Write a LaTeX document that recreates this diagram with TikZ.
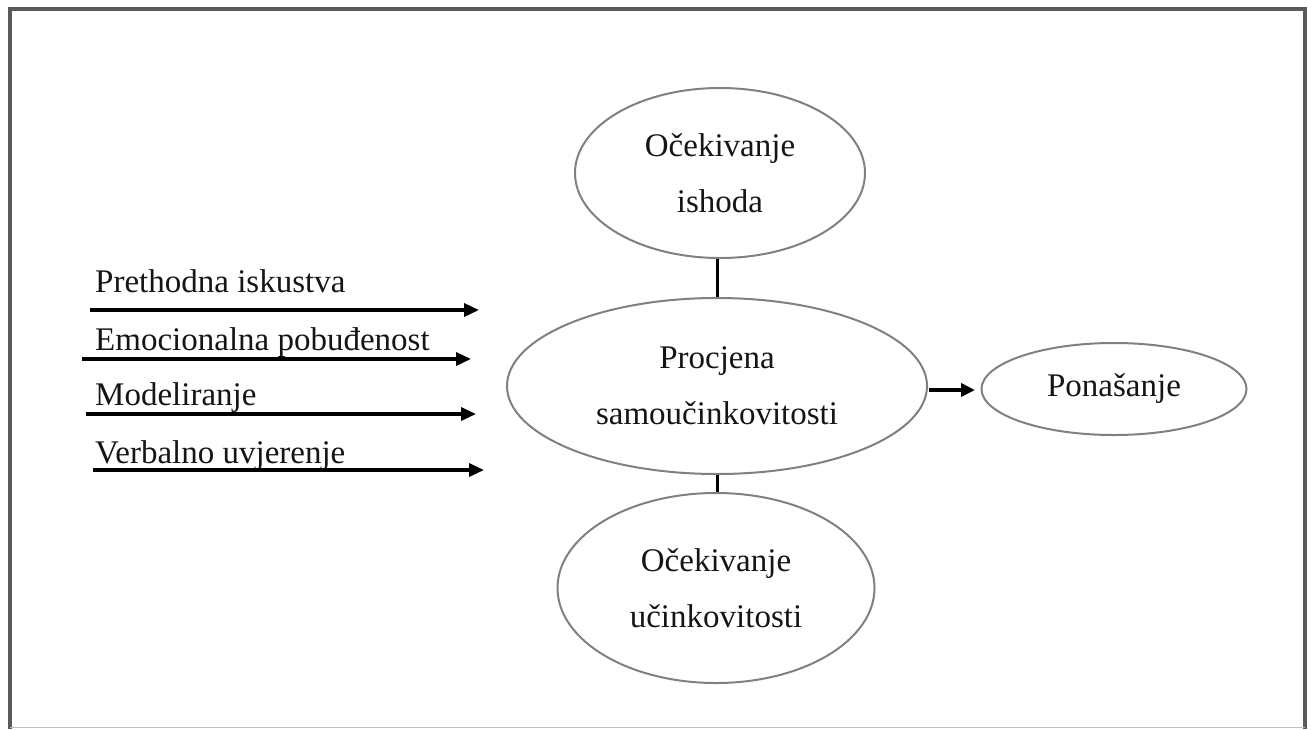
\documentclass[tikz,border=0pt]{standalone}
\usepackage{fontspec}
\setmainfont{Liberation Serif}
\usetikzlibrary{arrows.meta,shapes.geometric}
\definecolor{framegray}{HTML}{5A5A5A}
\definecolor{ellgray}{HTML}{808080}
\definecolor{txt}{HTML}{151515}
\begin{document}
\begin{tikzpicture}[x=1pt,y=-1pt,
  oval/.style={ellipse,draw=ellgray,line width=2pt,inner sep=0pt,align=center,
    font=\fontsize{33}{56}\selectfont,text=txt},
  lbl/.style={anchor=base west,inner sep=0pt,font=\fontsize{33}{38}\selectfont,text=txt},
  inarrow/.style={line width=3.5pt,-{Triangle[length=15pt,width=13pt]}},
  link/.style={line width=3pt}]
\useasboundingbox (0,0) rectangle (1311,729);
% frame
\draw[framegray,line width=4pt] (10,729) -- (10,9) -- (1305,9) -- (1305,729);
\draw[black!25,line width=1.5pt] (10,727.5) -- (1305,727.5);
% ellipses
\node[oval,minimum width=290pt,minimum height=170pt] (top) at (720,173) {Očekivanje\\ishoda};
\node[oval,minimum width=420pt,minimum height=176pt] (mid) at (717,386) {Procjena\\samoučinkovitosti};
\node[oval,minimum width=317pt,minimum height=190pt] (bot) at (716,588) {Očekivanje\\učinkovitosti};
\node[oval,minimum width=265pt,minimum height=92pt] (pon) at (1114,389) {Ponašanje};
% vertical links
\draw[link] (mid.north) -- (mid.north |- top.south);
\draw[link] (mid.south) -- (mid.south |- bot.north);
% arrow to behaviour
\coordinate (ps) at (929,390);
\coordinate (pe) at (975,390);
\draw[line width=3.5pt,-{Triangle[length=14pt,width=13pt]}] (ps) -- (pe);
% left labels
\node[lbl] (l1) at (95,292) {Prethodna iskustva};
\node[lbl] (l2) at (95,350) {Emocionalna pobuđenost};
\node[lbl] (l3) at (95,405) {Modeliranje};
\node[lbl] (l4) at (95,463) {Verbalno uvjerenje};
% left arrows
\coordinate (a1s) at (90,310);  \coordinate (a1e) at (479,310);
\coordinate (a2s) at (82,359);  \coordinate (a2e) at (471,359);
\coordinate (a3s) at (86,414);  \coordinate (a3e) at (476,414);
\coordinate (a4s) at (93,470);  \coordinate (a4e) at (484,470);
\draw[inarrow] (a1s) -- (a1e);
\draw[inarrow] (a2s) -- (a2e);
\draw[inarrow] (a3s) -- (a3e);
\draw[inarrow] (a4s) -- (a4e);
\end{tikzpicture}
\end{document}
